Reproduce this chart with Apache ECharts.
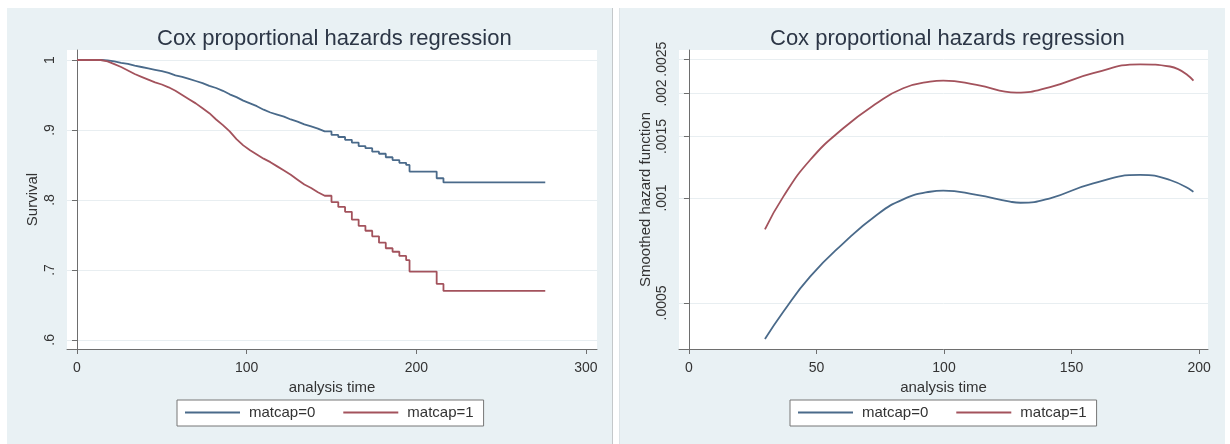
<!DOCTYPE html>
<html><head><meta charset="utf-8">
<script src="https://cdn.jsdelivr.net/npm/echarts@6/dist/echarts.min.js"></script>
<style>html,body{margin:0;padding:0;background:#fff}#c{width:1230px;height:444px}</style>
</head><body><div id="c"></div>
<script>
const titleText = 'Cox proportional hazards regression';
const seriesNames = ['matcap=0', 'matcap=1'];
const survivalTimeTicks = [0, 100, 200, 300];
const survivalTicks = [0.6, 0.7, 0.8, 0.9, 1];
const hazardTimeTicks = [0, 50, 100, 150, 200];
const hazardTicks = [0.0005, 0.001, 0.0015, 0.002, 0.0025];

// [analysis time, survival] (visible step corners listed twice)
const survivalMatcap0 = [[0,1],[14,1],[18,0.9995],[22,0.998],[26,0.996],[30,0.9945],[34,0.992],[38,0.990],[42,0.988],[46,0.986],[50,0.984],[54,0.9815],[58,0.978],[62,0.976],[66,0.973],[70,0.970],[74,0.967],[78,0.963],[82,0.960],[86,0.956],[90,0.951],[94,0.947],[98,0.942],[102,0.938],[106,0.934],[110,0.929],[114,0.925],[118,0.922],[122,0.919],[126,0.915],[130,0.912],[134,0.908],[138,0.905],[142,0.902],[146,0.898],[150,0.898],[150,0.893],[154,0.893],[154,0.890],[158,0.890],[158,0.886],[162,0.886],[162,0.882],[166,0.882],[166,0.877],[170,0.877],[170,0.874],[174,0.874],[174,0.869],[178,0.869],[178,0.866],[182,0.866],[182,0.861],[186,0.861],[186,0.857],[190,0.857],[190,0.853],[194,0.853],[194,0.850],[196,0.850],[196,0.8405],[212,0.8405],[212,0.831],[216,0.831],[216,0.825],[276,0.825]];
const survivalMatcap1 = [[0,1],[14,1],[18,0.998],[22,0.994],[26,0.990],[30,0.985],[34,0.980],[38,0.976],[42,0.972],[46,0.968],[50,0.965],[54,0.961],[58,0.956],[62,0.950],[66,0.944],[70,0.938],[74,0.931],[78,0.924],[82,0.915],[86,0.907],[90,0.898],[94,0.887],[98,0.878],[102,0.871],[106,0.865],[110,0.859],[114,0.854],[118,0.848],[122,0.842],[126,0.836],[130,0.829],[134,0.822],[138,0.817],[142,0.811],[146,0.806],[150,0.806],[150,0.797],[154,0.797],[154,0.790],[158,0.790],[158,0.783],[162,0.783],[162,0.772],[166,0.772],[166,0.763],[170,0.763],[170,0.756],[174,0.756],[174,0.748],[178,0.748],[178,0.739],[182,0.739],[182,0.731],[186,0.731],[186,0.726],[190,0.726],[190,0.720],[194,0.720],[194,0.714],[196,0.714],[196,0.6976],[212,0.6976],[212,0.680],[216,0.680],[216,0.670],[276,0.670]];

// [analysis time, smoothed hazard]
const hazardMatcap0 = [[29.8,0.000394],[37,0.000472],[47.5,0.000595],[60.5,0.000741],[73.6,0.000894],[84,0.000991],[94.5,0.001042],[99.7,0.00105],[112.8,0.00102],[125.9,0.000976],[130,0.000969],[141.6,0.000998],[158.5,0.001102],[176.9,0.001164],[188.6,0.001126],[197.8,0.001042]];
const hazardMatcap1 = [[29.8,0.000813],[37,0.001009],[47.5,0.001285],[60.5,0.001584],[73.6,0.001868],[84,0.002063],[94.5,0.002155],[99.7,0.00217],[112.8,0.002109],[128.5,0.002005],[141.6,0.00208],[158.5,0.002279],[176.9,0.002416],[188.6,0.002382],[197.8,0.00217]];

const FONT = "'Liberation Sans', Arial, sans-serif";
const BLUE = '#4a6a8a';
const RED = '#a3525c';
const AXIS = '#6e6e6e';
const TEXT = '#333';

const trimZero = v => String(+(+v).toPrecision(6)).replace(/^0\./, '.');

function xAxisOf(gi, min, max, ticks, nameGap) {
  return {
    type: 'value', gridIndex: gi, min: min, max: max,
    name: 'analysis time', nameLocation: 'middle', nameGap: nameGap,
    nameTextStyle: { fontFamily: FONT, fontSize: 15, color: TEXT },
    axisLine: { show: true, lineStyle: { color: AXIS, width: 1 } },
    axisTick: { show: true, length: 5, lineStyle: { color: AXIS }, customValues: ticks },
    axisLabel: { fontFamily: FONT, fontSize: 14, color: TEXT, margin: 12, customValues: ticks },
    splitLine: { show: false }
  };
}
function yAxisOf(gi, type, min, max, ticks, name, nameGap) {
  const a = {
    type: type, gridIndex: gi, min: min, max: max,
    name: name, nameLocation: 'middle', nameGap: nameGap, nameRotate: 90,
    nameTextStyle: { fontFamily: FONT, fontSize: 15, color: TEXT },
    axisLine: { show: true, lineStyle: { color: AXIS, width: 1 } },
    axisTick: { show: true, length: 5, lineStyle: { color: AXIS }, customValues: ticks },
    axisLabel: { fontFamily: FONT, fontSize: 14, color: TEXT, margin: 10, rotate: 90,
      customValues: ticks, formatter: trimZero },
    splitLine: { show: true, lineStyle: { color: '#e8eef1', width: 1 } }
  };
  if (type === 'log') a.logBase = 10;
  return a;
}
function legendOf(left) {
  return {
    data: seriesNames, left: left, top: 400, orient: 'horizontal',
    icon: 'rect', itemWidth: 55, itemHeight: 2, itemGap: 28,
    padding: [5, 10, 6, 8],
    backgroundColor: '#fff', borderColor: '#777', borderWidth: 1,
    textStyle: { fontFamily: FONT, fontSize: 15, color: TEXT, padding: [0, 0, 0, 4] },
    selectedMode: false
  };
}
function lineSeries(name, color, data, xi, yi, extra) {
  return Object.assign({
    name: name, type: 'line', xAxisIndex: xi, yAxisIndex: yi, data: data,
    symbol: 'none', showSymbol: false, animation: false,
    lineStyle: { color: color, width: 1.8 }, itemStyle: { color: color }, z: 3
  }, extra || {});
}

const chart = echarts.init(document.getElementById('c'), null, { renderer: 'canvas' });
chart.setOption({
  backgroundColor: '#fff',
  animation: false,
  graphic: [
    { type: 'rect', z: -10, silent: true, shape: { x: 7, y: 8, width: 605, height: 436 }, style: { fill: '#e9f1f4' } },
    { type: 'rect', z: -10, silent: true, shape: { x: 620, y: 8, width: 605, height: 436 }, style: { fill: '#e9f1f4' } },
    { type: 'line', z: -9, silent: true, shape: { x1: 612.5, y1: 8, x2: 612.5, y2: 444 }, style: { stroke: '#c4c8ca', lineWidth: 1 } },
    { type: 'line', z: -9, silent: true, shape: { x1: 619.5, y1: 8, x2: 619.5, y2: 444 }, style: { stroke: '#dde3e6', lineWidth: 1 } }
  ],
  title: [
    { text: titleText, left: 157, top: 28, padding: 0,
      textStyle: { fontFamily: FONT, fontSize: 22, fontWeight: 'normal', color: '#2c3646' } },
    { text: titleText, left: 770, top: 28, padding: 0,
      textStyle: { fontFamily: FONT, fontSize: 22, fontWeight: 'normal', color: '#2c3646' } }
  ],
  legend: [legendOf(177), legendOf(790)],
  grid: [
    { left: 67, top: 50, width: 530, height: 299, show: true, backgroundColor: '#fff', borderWidth: 0, containLabel: false, outerBoundsMode: 'none' },
    { left: 679, top: 50, width: 529, height: 299, show: true, backgroundColor: '#fff', borderWidth: 0, containLabel: false, outerBoundsMode: 'none' }
  ],
  xAxis: [
    xAxisOf(0, -5.9, 306.5, survivalTimeTicks, 27),
    xAxisOf(1, -3.9, 203.5, hazardTimeTicks, 25)
  ],
  yAxis: [
    yAxisOf(0, 'value', 0.587, 1.0143, survivalTicks, 'Survival', 27),
    yAxisOf(1, 'log', 0.000369, 0.002656, hazardTicks, 'Smoothed hazard function', 26)
  ],
  series: [
    lineSeries(seriesNames[0], BLUE, survivalMatcap0, 0, 0),
    lineSeries(seriesNames[1], RED, survivalMatcap1, 0, 0),
    lineSeries(seriesNames[0], BLUE, hazardMatcap0, 1, 1, { smooth: 0.5 }),
    lineSeries(seriesNames[1], RED, hazardMatcap1, 1, 1, { smooth: 0.5 })
  ]
});
</script></body></html>
